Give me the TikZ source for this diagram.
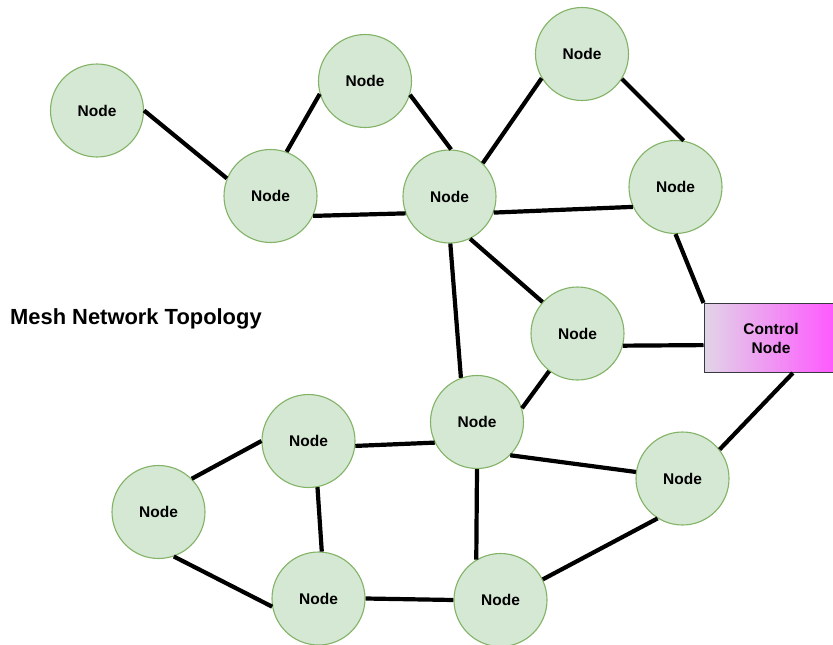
\documentclass[tikz,border=0pt]{standalone}
\usepackage{fontspec}
\setmainfont{Liberation Sans}
\definecolor{nodefill}{HTML}{D5E8D4}
\definecolor{nodeline}{HTML}{82B366}
\definecolor{ctrlleft}{HTML}{E1D5E7}
\definecolor{ctrlright}{HTML}{FF55FF}
\definecolor{ctrlline}{HTML}{36393D}
\tikzset{
  meshnode/.style={circle, fill=nodefill, draw=nodeline, line width=1.1pt,
    minimum size=93pt, inner sep=0pt,
    font=\fontsize{15.5}{18}\selectfont\bfseries},
  ctrlnode/.style={rectangle, draw=ctrlline, line width=1pt,
    left color=ctrlleft, right color=ctrlright,
    minimum width=134pt, minimum height=69pt, inner sep=0pt, align=center,
    font=\fontsize{15.5}{19}\selectfont\bfseries},
  link/.style={line width=4.2pt, black},
  titletext/.style={font=\fontsize{21.9}{24}\selectfont\bfseries, inner sep=0pt}
}
\begin{document}
\begin{tikzpicture}[x=1pt, y=-1pt]
\useasboundingbox (0,0) rectangle (833,645);

% nodes
\node[meshnode] (n1)  at (97,110.5)   {Node};
\node[meshnode] (n2)  at (365,81)     {Node};
\node[meshnode] (n3)  at (582,54)     {Node};
\node[meshnode] (n4)  at (270.5,196)  {Node};
\node[meshnode] (n5)  at (449.5,196.5){Node};
\node[meshnode] (n6)  at (675.5,187)  {Node};
\node[meshnode] (n7)  at (577.5,333.5){Node};
\node[meshnode] (n8)  at (477,422)    {Node};
\node[meshnode] (n9)  at (308.5,441)  {Node};
\node[meshnode] (n10) at (158.5,512)  {Node};
\node[meshnode] (n11) at (682.5,478.5){Node};
\node[meshnode] (n12) at (318.5,598.5){Node};
\node[meshnode] (n13) at (500.5,600)  {Node};
\node[ctrlnode] (ctrl) at (771,338)   {Control\\Node};

\node[titletext, anchor=base west] (title) at (10,324.5) {Mesh Network Topology};

% links
\draw[link] (n1.0)    -- (n4.158);
\draw[link] (n2.196.7)-- (n4.70.2);
\draw[link] (n4.335.3)-- (n5.201.5);
\draw[link] (n2.-17.3)-- (n5.88);
\draw[link] (n3.211.6)-- (n5.45);
\draw[link] (n3.-32.7)-- (n6.80.7);
\draw[link] (n5.-20.8)-- (n6.205.8);
\draw[link] (n6.270)  -- (ctrl.north west);
\draw[link] (n5.-64.8)-- (n7.138.6);
\draw[link] (n5.-89)  -- (n8.110.4);
\draw[link] (n7.-15.4)-- (ctrl.186.8);
\draw[link] (n7.233)  -- (n8.17.7);
\draw[link] (ctrl.302.5) -- (n11.38.6);
\draw[link] (n8.-45)  -- (n11.172.5);
\draw[link] (n9.-6.4) -- (n8.206);
\draw[link] (n10.45.5)-- (n9.180);
\draw[link] (n9.281.7)-- (n12.86.7);
\draw[link] (n10.-71.7)-- (n12.190.7);
\draw[link] (n12.0)   -- (n13.180);
\draw[link] (n8.270)  -- (n13.121.5);
\draw[link] (n11.238.8)-- (n13.26.3);
\end{tikzpicture}
\end{document}
